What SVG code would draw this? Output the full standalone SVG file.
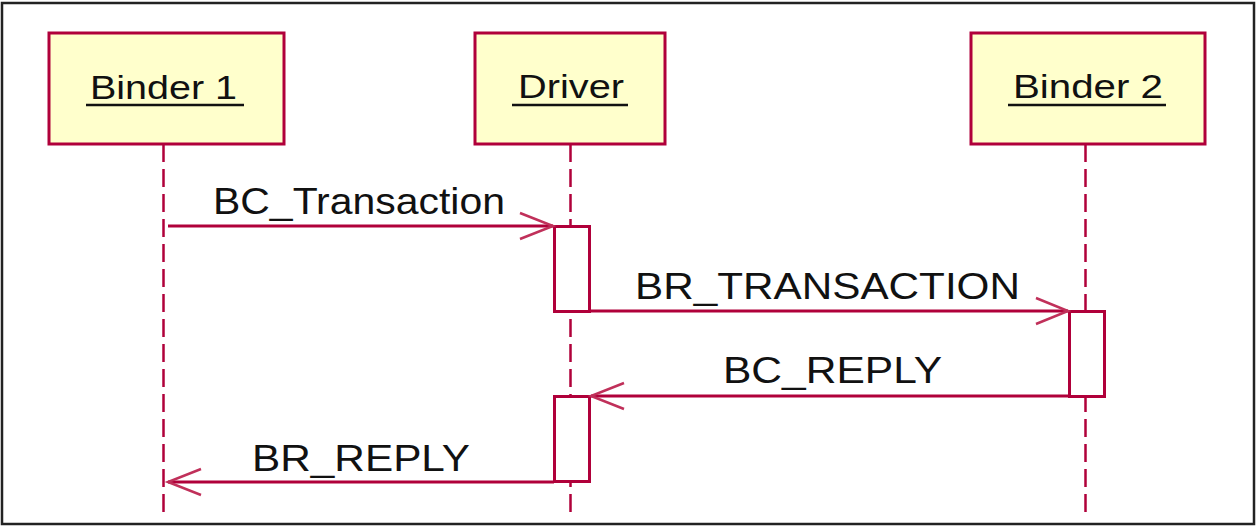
<svg xmlns="http://www.w3.org/2000/svg" width="1257" height="528" viewBox="0 0 1257 528">
  <style>
    .head { fill: #ffffcc; stroke: #b0003a; stroke-width: 3; }
    .act { fill: #ffffff; stroke: #b0003a; stroke-width: 3; }
    .life { stroke: #b0003a; stroke-width: 2.5; stroke-dasharray: 18 7; fill: none; }
    .msg { stroke: #b0003a; stroke-width: 3; fill: none; }
    .tip { stroke: #c0305a; stroke-width: 2.5; fill: none; }
    .ht { font-family: 'Liberation Sans', Arial, sans-serif; font-size: 34px; fill: #111; }
    .mt { font-family: 'Liberation Sans', Arial, sans-serif; font-size: 37px; fill: #111; }
    .ul { stroke: #111; stroke-width: 2.5; }
  </style>
  <rect x="0" y="0" width="1257" height="528" fill="#ffffff"/>
  <rect x="2" y="3" width="1252" height="521" fill="none" stroke="#222" stroke-width="2.5"/>

  <g id="lifelines">
    <line class="life" x1="163.5" y1="144" x2="163.5" y2="512"/>
    <line class="life" x1="570.5" y1="144" x2="570.5" y2="512"/>
    <line class="life" x1="1085.5" y1="144" x2="1085.5" y2="512"/>
  </g>

  <g id="binder1">
    <rect class="head" x="49" y="33" width="235" height="111"/>
    <text class="ht" x="90" y="99" textLength="147" lengthAdjust="spacingAndGlyphs">Binder 1</text>
    <line class="ul" x1="86" y1="105" x2="244" y2="105"/>
  </g>
  <g id="driver">
    <rect class="head" x="475" y="33" width="190" height="111"/>
    <text class="ht" x="518" y="98" textLength="106" lengthAdjust="spacingAndGlyphs">Driver</text>
    <line class="ul" x1="512" y1="105" x2="628" y2="105"/>
  </g>
  <g id="binder2">
    <rect class="head" x="971" y="33" width="234" height="111"/>
    <text class="ht" x="1013" y="98" textLength="150" lengthAdjust="spacingAndGlyphs">Binder 2</text>
    <line class="ul" x1="1008" y1="105" x2="1166" y2="105"/>
  </g>

  <g id="activation1">
    <rect class="act" x="554.5" y="226.5" width="35" height="85"/>
  </g>
  <g id="activation2">
    <rect class="act" x="1069.5" y="311.5" width="35" height="85"/>
  </g>
  <g id="activation3">
    <rect class="act" x="554.5" y="396.5" width="35" height="85"/>
  </g>

  <g id="connectors">
    <line class="msg" x1="168" y1="226" x2="553" y2="226"/>
    <polyline class="tip" points="520,213 553,226 520,239"/>
    <line class="msg" x1="590" y1="311" x2="1068" y2="311"/>
    <polyline class="tip" points="1036,298 1068,311 1036,324"/>
    <line class="msg" x1="1069" y1="396" x2="591" y2="396"/>
    <polyline class="tip" points="624,383 591,396 624,409"/>
    <line class="msg" x1="554" y1="482" x2="168" y2="482"/>
    <polyline class="tip" points="201,469 168,482 201,495"/>
  </g>

  <g id="labels">
    <text class="mt" x="213" y="214" textLength="292" lengthAdjust="spacingAndGlyphs">BC_Transaction</text>
    <text class="mt" x="635" y="299" textLength="385" lengthAdjust="spacingAndGlyphs">BR_TRANSACTION</text>
    <text class="mt" x="723" y="383" textLength="219" lengthAdjust="spacingAndGlyphs">BC_REPLY</text>
    <text class="mt" x="252" y="471" textLength="218" lengthAdjust="spacingAndGlyphs">BR_REPLY</text>
  </g>
</svg>
